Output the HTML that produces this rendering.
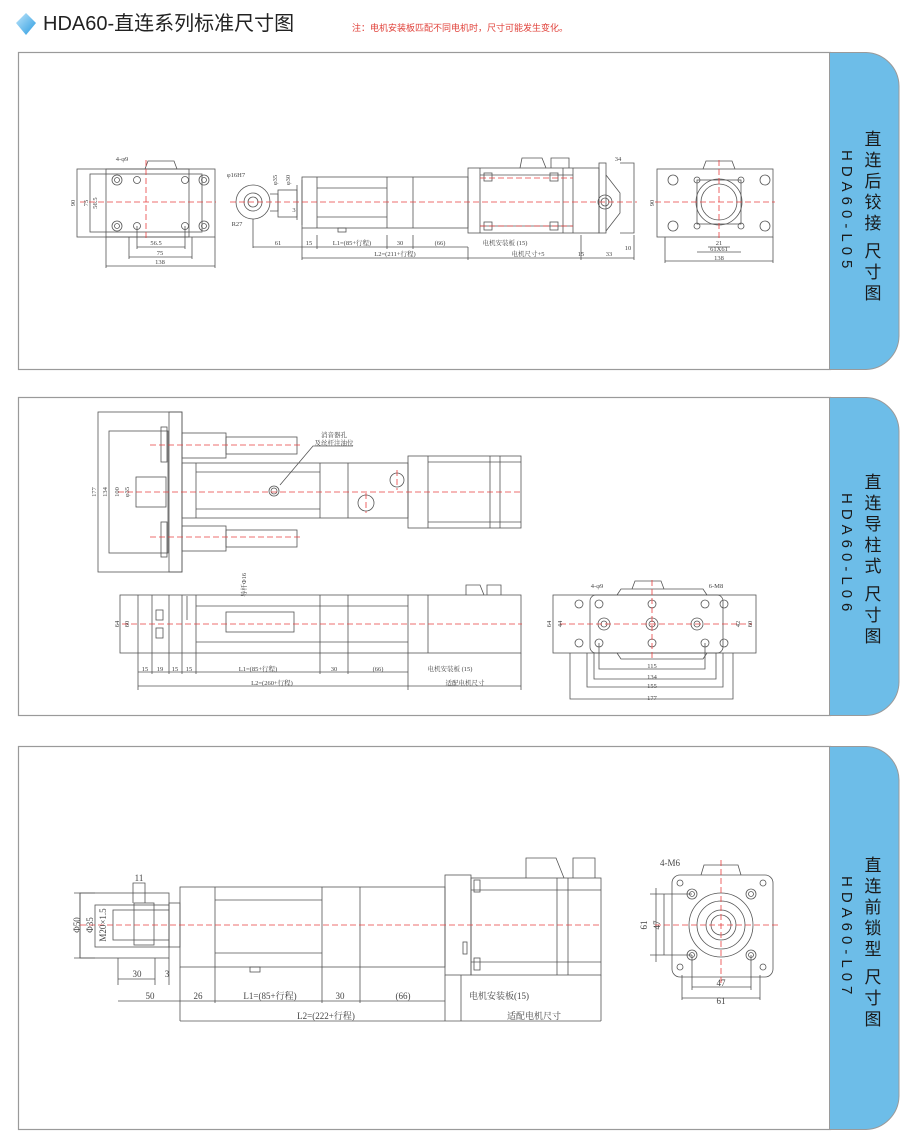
<!DOCTYPE html>
<html><head><meta charset="utf-8"><style>
body{margin:0;background:#fff;width:909px;height:1144px;overflow:hidden;font-family:"Liberation Sans","Noto Sans CJK SC",sans-serif;}
svg{position:absolute;left:0;top:0}
</style></head><body>
<svg width="909" height="1144" viewBox="0 0 909 1144" xmlns="http://www.w3.org/2000/svg" font-family="Liberation Serif, Noto Serif CJK SC, serif">
<defs>
<linearGradient id="dg" x1="0" y1="0" x2="1" y2="1"><stop offset="0" stop-color="#bfe6fb"/><stop offset="1" stop-color="#2a9be0"/></linearGradient>
</defs>
<!-- header -->
<polygon points="26,13 36,23 26,35 16,23" fill="url(#dg)"/>
<text x="43" y="30" font-family="Liberation Sans, Noto Sans CJK SC, sans-serif" font-size="20" fill="#222">HDA60-直连系列标准尺寸图</text>
<text x="352" y="31" font-family="Liberation Sans, Noto Sans CJK SC, sans-serif" font-size="9" fill="#e0413a">注：电机安装板匹配不同电机时，尺寸可能发生变化。</text>

<!-- panels -->
<g fill="none" stroke="#9a9a9a" stroke-width="1.2">
<rect x="18.5" y="52.5" width="812" height="317"/>
<rect x="18.5" y="397.5" width="812" height="318"/>
<rect x="18.5" y="746.5" width="812" height="383"/>
</g>
<g fill="#6dbde8" stroke="#9a9a9a" stroke-width="1">
<path d="M829.5,52.5 H866 A34,34 0 0 1 899,86 V336 A34,34 0 0 1 866,369.5 H829.5 Z"/>
<path d="M829.5,397.5 H866 A34,34 0 0 1 899,431 V682 A34,34 0 0 1 866,715.5 H829.5 Z"/>
<path d="M829.5,746.5 H866 A34,34 0 0 1 899,780 V1096 A34,34 0 0 1 866,1129.5 H829.5 Z"/>
</g>
<g font-family="Liberation Sans, Noto Sans CJK SC, sans-serif" font-size="17" fill="#1a1a1a" text-anchor="middle">
<text x="873" y="145">直</text><text x="873" y="166">连</text><text x="873" y="187">后</text><text x="873" y="208">铰</text><text x="873" y="229">接</text><text x="873" y="257">尺</text><text x="873" y="278">寸</text><text x="873" y="299">图</text>
<text x="873" y="488">直</text><text x="873" y="509">连</text><text x="873" y="530">导</text><text x="873" y="551">柱</text><text x="873" y="572">式</text><text x="873" y="600">尺</text><text x="873" y="621">寸</text><text x="873" y="642">图</text>
<text x="873" y="871">直</text><text x="873" y="892">连</text><text x="873" y="913">前</text><text x="873" y="934">锁</text><text x="873" y="955">型</text><text x="873" y="983">尺</text><text x="873" y="1004">寸</text><text x="873" y="1025">图</text>
</g>
<g font-family="Liberation Sans, sans-serif" font-size="15" fill="#1a1a1a" letter-spacing="5">
<text transform="translate(842,150) rotate(90)">HDA60-L05</text>
<text transform="translate(842,493) rotate(90)">HDA60-L06</text>
<text transform="translate(842,876) rotate(90)">HDA60-L07</text>
</g>

<g fill="none" stroke="#555" stroke-width="0.8">
<!-- ===== Panel 1 ===== -->
<rect x="77" y="169" width="138" height="68"/>
<rect x="90" y="174" width="112" height="58"/>
<rect x="106" y="169" width="83" height="68"/>
<path d="M145,169 l3,-8 h26 l3,8"/>
<circle cx="117" cy="180" r="5"/><circle cx="117" cy="180" r="2.5"/>
<circle cx="204" cy="180" r="5"/><circle cx="204" cy="180" r="2.5"/>
<circle cx="117" cy="226" r="5"/><circle cx="117" cy="226" r="2.5"/>
<circle cx="204" cy="226" r="5"/><circle cx="204" cy="226" r="2.5"/>
<circle cx="137" cy="180" r="3.5"/><circle cx="185" cy="180" r="3.5"/><circle cx="137" cy="226" r="3.5"/><circle cx="185" cy="226" r="3.5"/>
<path d="M137,247 H185 M129,257 H192 M106,266 H215 M106,237 V268 M215,237 V268 M129,237 V259 M192,237 V259 M137,226 V249 M185,226 V249"/>
<!-- rod end -->
<circle cx="253" cy="202" r="17"/><circle cx="253" cy="202" r="9"/><circle cx="253" cy="202" r="5"/>
<path d="M270,194 H278 V211 H270"/>
<rect x="278" y="190" width="19" height="27"/><path d="M297,185 V220 M302,180 V225"/>
<path d="M253,219 V248 M302,228 V260"/>
<!-- body -->
<rect x="302" y="177" width="166" height="51"/>
<path d="M317,177 V228 M387,177 V228 M413,177 V228 M317,188 H387 M317,217 H387"/>
<rect x="338" y="228" width="8" height="4"/>
<rect x="468" y="168" width="131" height="65"/>
<path d="M480,168 V233 M563,168 V233 M573,168 V233 M480,175 H573 M480,226 H573"/>
<rect x="484" y="173" width="8" height="8"/><rect x="550" y="173" width="8" height="8"/><rect x="484" y="222" width="8" height="8"/><rect x="550" y="222" width="8" height="8"/>
<path d="M520,168 l2,-10 h20 l4,10 M551,168 v-10 h18 v10"/>
<rect x="599" y="163" width="7" height="70"/><path d="M606,175 l14,18 v20 l-14,18 M620,163 h14 v70 h-14"/>
<circle cx="605" cy="202" r="7"/><circle cx="605" cy="202" r="4"/>
<path d="M253,247 H468 M302,258 H634 M468,247 V260 M581,235 V260 M634,235 V260 M317,235 V249 M387,235 V249 M413,235 V249"/>
<!-- right view -->
<rect x="657" y="169" width="116" height="68"/>
<circle cx="719" cy="202" r="23"/><circle cx="719" cy="202" r="18"/><rect x="697" y="180" width="44" height="44"/>
<path d="M703,169 l3,-8 h26 l3,8"/>
<circle cx="673" cy="180" r="5"/><circle cx="765" cy="180" r="5"/><circle cx="673" cy="226" r="5"/><circle cx="765" cy="226" r="5"/>
<circle cx="697" cy="180" r="3"/><circle cx="741" cy="180" r="3"/><circle cx="697" cy="226" r="3"/><circle cx="741" cy="226" r="3"/>
<path d="M708,247 H730 M697,252 H741 M665,261 H773 M665,237 V263 M773,237 V263"/>

<!-- ===== Panel 2 ===== -->
<rect x="98" y="412" width="84" height="160"/>
<rect x="109" y="431" width="59" height="122"/>
<rect x="169" y="412" width="13" height="160"/>
<rect x="136" y="477" width="30" height="30"/>
<rect x="161" y="427" width="6" height="35"/><rect x="161" y="522" width="6" height="35"/>
<rect x="182" y="433" width="44" height="25"/><rect x="226" y="437" width="71" height="17"/>
<rect x="182" y="526" width="44" height="25"/><rect x="226" y="530" width="71" height="17"/>
<rect x="182" y="463" width="226" height="55"/>
<path d="M196,463 V518 M320,463 V518 M348,463 V518 M196,472 H320 M196,509 H320"/>
<circle cx="274" cy="491" r="5"/><circle cx="274" cy="491" r="3"/>
<circle cx="397" cy="480" r="7"/><circle cx="366" cy="503" r="8"/>
<rect x="408" y="456" width="113" height="72"/>
<path d="M428,456 V528 M490,456 V528 M500,456 V528 M428,462 H521 M428,522 H521"/>
<path d="M280,485 L313,446 H353"/>
<!-- lower view -->
<rect x="120" y="595" width="401" height="58"/>
<path d="M138,595 V653 M152,595 V653 M169,595 V653 M182,595 V653 M196,595 V653 M320,595 V653 M348,595 V653 M408,595 V653 M428,595 V653 M196,606 H408 M196,642 H408"/>
<rect x="226" y="612" width="68" height="20"/>
<rect x="156" y="610" width="7" height="10"/><rect x="156" y="628" width="7" height="10"/>
<path d="M466,595 v-10 h14 l4,10 M487,595 v-10 h14 v10"/>
<path d="M138,672 H408 M138,686 H521 M408,653 V690 M521,653 V690 M138,653 V690 M152,653 V674 M169,653 V674 M182,653 V674 M196,653 V674 M320,653 V674 M348,653 V674"/>
<path d="M187,596 V620"/>
<!-- right view p2 -->
<rect x="553" y="595" width="203" height="58"/>
<rect x="590" y="595" width="133" height="58" rx="6"/>
<path d="M617,595 l4,-6 h82 l4,6 M617,653 l4,6 h82 l4,-6 M632,589 l3,-8 h26 l3,8"/>
<circle cx="579" cy="604" r="4"/><circle cx="599" cy="604" r="4"/><circle cx="652" cy="604" r="4"/><circle cx="705" cy="604" r="4"/><circle cx="724" cy="604" r="4"/>
<circle cx="579" cy="643" r="4"/><circle cx="599" cy="643" r="4"/><circle cx="652" cy="643" r="4"/><circle cx="705" cy="643" r="4"/><circle cx="724" cy="643" r="4"/>
<circle cx="604" cy="624" r="6"/><circle cx="604" cy="624" r="3"/><circle cx="652" cy="624" r="6"/><circle cx="652" cy="624" r="3"/><circle cx="697" cy="624" r="6"/><circle cx="697" cy="624" r="3"/>
<path d="M599,643 V669 H705 V643 M594,653 V679 H716 V653 M587,653 V687 H723 V653 M570,653 V699 H733 V653"/>

<!-- ===== Panel 3 ===== -->
<rect x="80" y="893" width="89" height="65"/>
<rect x="95" y="905" width="74" height="42"/>
<rect x="113" y="910" width="56" height="30"/>
<rect x="134" y="903" width="20" height="42"/>
<path d="M133,903 V883 H145 V903"/>
<rect x="169" y="903" width="11" height="44"/>
<rect x="180" y="887" width="265" height="80"/>
<path d="M215,887 V967 M322,887 V967 M360,887 V967 M215,900 H322 M215,953 H322"/>
<rect x="250" y="967" width="10" height="5"/>
<rect x="445" y="875" width="26" height="100"/>
<rect x="471" y="878" width="130" height="97"/>
<path d="M557,878 V975 M568,878 V975 M471,890 H601 M471,962 H601"/>
<rect x="474" y="880" width="6" height="12"/><rect x="474" y="958" width="6" height="12"/><rect x="463" y="942" width="4" height="12"/>
<path d="M526,878 v-20 h30 l8,20 M573,878 v-20 h22 v20"/>
<path d="M118,958 V985 M155,958 V985 M169,958 V985 M118,979 H155 M118,1001 H445 M180,967 V1021 M215,967 V1003 M322,967 V1003 M360,967 V1003 M445,975 V1021 M461,975 V1021 M601,975 V1021 M180,1021 H601"/>
<path d="M74,893 H95 M74,958 H95 M80,893 V958"/>
<!-- right view p3 -->
<rect x="672" y="875" width="101" height="102" rx="8"/>
<circle cx="721" cy="925" r="32"/><circle cx="721" cy="925" r="24"/><circle cx="721" cy="925" r="15"/><circle cx="721" cy="925" r="10"/>
<path d="M701,875 l3,-10 h34 l3,10"/>
<circle cx="692" cy="894" r="5"/><circle cx="692" cy="894" r="2.5"/><circle cx="751" cy="894" r="5"/><circle cx="751" cy="894" r="2.5"/>
<circle cx="692" cy="955" r="5"/><circle cx="692" cy="955" r="2.5"/><circle cx="751" cy="955" r="5"/><circle cx="751" cy="955" r="2.5"/>
<circle cx="680" cy="883" r="3"/><circle cx="763" cy="883" r="3"/><circle cx="680" cy="967" r="3"/><circle cx="763" cy="967" r="3"/>
<path d="M692,955 V990 M751,955 V990 M692,987 H751 M682,975 V1000 M760,975 V1000 M682,998 H760 M650,894 H692 M650,955 H692 M656,888 V962 M664,894 V955"/>
</g>

<!-- center lines -->
<g stroke="#e84040" stroke-width="0.8" stroke-dasharray="6,3" fill="none">
<path d="M80,202 H216 M146,160 V240 M230,202 H637 M655,202 H775 M719,160 V240 M480,178 H573 M480,226 H573"/>
<path d="M150,445 H300 M150,537 H300 M118,492 H522 M397,470 V490 M366,493 V513 M122,624 H522 M560,624 H752 M652,580 V660"/>
<path d="M80,925 H602 M655,925 H778 M721,860 V985"/>
</g>

<!-- dimension text -->
<g font-size="6.5" fill="#444" text-anchor="middle">
<text x="122" y="161">4-φ9</text>
<text x="156" y="245">56.5</text><text x="160" y="255">75</text><text x="160" y="264">138</text>
<text transform="translate(75,203) rotate(-90)">90</text><text transform="translate(88,203) rotate(-90)">75</text><text transform="translate(97,203) rotate(-90)">56.5</text>
<text x="236" y="177">φ16H7</text><text x="237" y="226">R27</text>
<text transform="translate(277,180) rotate(-90)">φ35</text><text transform="translate(290,180) rotate(-90)">φ30</text>
<text x="278" y="245">61</text><text x="309" y="245">15</text><text x="352" y="245">L1=(85+行程)</text><text x="400" y="245">30</text><text x="440" y="245">(66)</text><text x="505" y="245">电机安装板 (15)</text>
<text x="395" y="256">L2=(211+行程)</text><text x="528" y="256">电机尺寸+5</text><text x="581" y="256">15</text><text x="609" y="256">33</text>
<text x="618" y="161">34</text><text x="628" y="250">10</text><text x="294" y="212">3</text>
<text transform="translate(654,203) rotate(-90)">90</text>
<text x="719" y="245">21</text><text x="719" y="251">61X61</text><text x="719" y="260">138</text>

<text x="334" y="437">消音器孔</text><text x="334" y="445">及丝杆注油位</text>
<text transform="translate(96,492) rotate(-90)">177</text><text transform="translate(107,492) rotate(-90)">134</text><text transform="translate(119,492) rotate(-90)">100</text><text transform="translate(129,492) rotate(-90)">φ35</text>
<text transform="translate(246,585) rotate(-90)">导杆Φ16</text>
<text transform="translate(119,624) rotate(-90)">64</text><text transform="translate(129,624) rotate(-90)">60</text>
<text x="145" y="671">15</text><text x="160" y="671">19</text><text x="175" y="671">15</text><text x="189" y="671">15</text><text x="258" y="671">L1=(85+行程)</text><text x="334" y="671">30</text><text x="378" y="671">(66)</text><text x="450" y="671">电机安装板 (15)</text>
<text x="272" y="685">L2=(260+行程)</text><text x="465" y="685">适配电机尺寸</text>
<text x="597" y="588">4-φ9</text><text x="716" y="588">6-M8</text>
<text transform="translate(551,624) rotate(-90)">64</text><text transform="translate(562,624) rotate(-90)">44</text><text transform="translate(740,624) rotate(-90)">42</text><text transform="translate(752,624) rotate(-90)">60</text>
<text x="652" y="668">115</text><text x="652" y="679">134</text><text x="652" y="688">155</text><text x="652" y="700">177</text>
</g>
<g font-size="9" fill="#444" text-anchor="middle">
<text x="139" y="881">11</text>
<text transform="translate(80,925) rotate(-90)">Φ50</text><text transform="translate(93,925) rotate(-90)">Φ35</text><text transform="translate(106,925) rotate(-90)">M20×1.5</text>
<text x="137" y="977">30</text><text x="167" y="977">3</text>
<text x="150" y="999">50</text><text x="198" y="999">26</text><text x="270" y="999">L1=(85+行程)</text><text x="340" y="999">30</text><text x="403" y="999">(66)</text><text x="499" y="999">电机安装板(15)</text>
<text x="326" y="1019">L2=(222+行程)</text><text x="534" y="1019">适配电机尺寸</text>
<text x="670" y="866">4-M6</text>
<text transform="translate(647,925) rotate(-90)">61</text><text transform="translate(660,925) rotate(-90)">47</text>
<text x="721" y="986">47</text><text x="721" y="1004">61</text>
</g>
</svg>
</body></html>
